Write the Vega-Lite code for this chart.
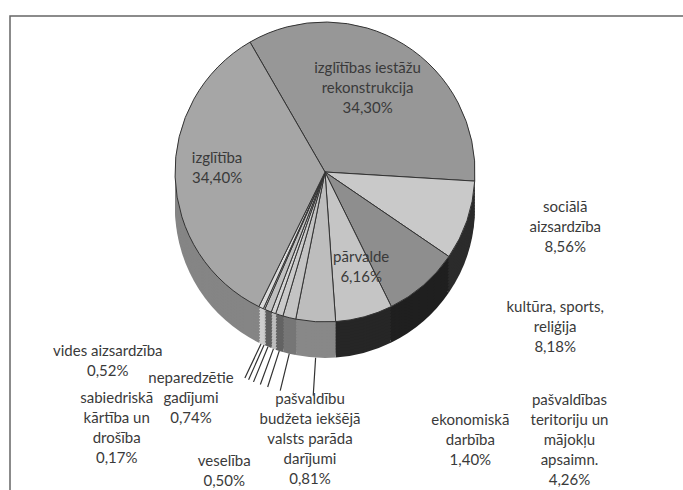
{
  "$schema": "https://vega.github.io/schema/vega-lite/v6.json",
  "width": 677,
  "height": 478,
  "padding": {"left": 10, "top": 16, "right": -4, "bottom": -4},
  "autosize": {"type": "none"},
  "background": "white",
  "config": {
    "view": {"stroke": null},
    "text": {"font": "Lato", "fontSize": 15, "fill": "#3a3a3a", "lineBreak": "\n", "lineHeight": 20, "align": "center", "baseline": "middle"}
  },
  "data": {
    "values": [
      {"n": 1, "k": "izglītības iestāžu rekonstrukcija", "v": 34.30, "label": "izglītības iestāžu\nrekonstrukcija\n34,30%"},
      {"n": 2, "k": "sociālā aizsardzība", "v": 8.56, "label": "sociālā\naizsardzība\n8,56%"},
      {"n": 3, "k": "kultūra, sports, reliģija", "v": 8.18, "label": "kultūra, sports,\nreliģija\n8,18%"},
      {"n": 4, "k": "pārvalde", "v": 6.16, "label": "pārvalde\n6,16%"},
      {"n": 5, "k": "pašvaldības teritoriju un mājokļu apsaimn.", "v": 4.26, "label": "pašvaldības\nteritoriju un\nmājokļu\napsaimn.\n4,26%"},
      {"n": 6, "k": "ekonomiskā darbība", "v": 1.40, "label": "ekonomiskā\ndarbība\n1,40%"},
      {"n": 7, "k": "pašvaldību budžeta iekšējā valsts parāda darījumi", "v": 0.81, "label": "pašvaldību\nbudžeta iekšējā\nvalsts parāda\ndarījumi\n0,81%"},
      {"n": 8, "k": "veselība", "v": 0.50, "label": "veselība\n0,50%"},
      {"n": 9, "k": "neparedzētie gadījumi", "v": 0.74, "label": "neparedzētie\ngadījumi\n0,74%"},
      {"n": 10, "k": "sabiedriskā kārtība un drošība", "v": 0.17, "label": "sabiedriskā\nkārtība un\ndrošība\n0,17%"},
      {"n": 11, "k": "vides aizsardzība", "v": 0.52, "label": "vides aizsardzība\n0,52%"},
      {"n": 12, "k": "izglītība", "v": 34.40, "label": "izglītība\n34,40%"}
    ]
  },
  "layer": [
    {"mark": {"type": "rect", "fill": "transparent", "stroke": "#666666", "strokeWidth": 1.5},
     "data": {"values": [{"frame": 1}]},
     "encoding": {}},
    {
      "encoding": {
        "theta": {"field": "v", "type": "quantitative", "stack": true, "scale": {"range": [-0.5236, 5.7596]}},
        "order": {"field": "n", "type": "quantitative"}
      },
      "layer": [
        {"mark": {"type": "arc", "radius": 150, "xOffset": -23.5, "yOffset": -47},
         "encoding": {"fill": {"field": "n", "type": "ordinal", "legend": null,
           "scale": {"domain": [1,2,3,4,5,6,7,8,9,10,11,12], "range": ["#6a6a6a","#2b2b2b","#1f1f1f","#262626","#888888","#767676","#636363","#bdbdbd","#5e5e5e","#c4c4c4","#cdcdcd","#858585"]}}}},
        {"mark": {"type": "arc", "radius": 150, "xOffset": -23.5, "yOffset": -50}, "encoding": {"fill": {"field": "n", "type": "ordinal", "legend": null}}},
        {"mark": {"type": "arc", "radius": 150, "xOffset": -23.5, "yOffset": -53}, "encoding": {"fill": {"field": "n", "type": "ordinal", "legend": null}}},
        {"mark": {"type": "arc", "radius": 150, "xOffset": -23.5, "yOffset": -56}, "encoding": {"fill": {"field": "n", "type": "ordinal", "legend": null}}},
        {"mark": {"type": "arc", "radius": 150, "xOffset": -23.5, "yOffset": -59}, "encoding": {"fill": {"field": "n", "type": "ordinal", "legend": null}}},
        {"mark": {"type": "arc", "radius": 150, "xOffset": -23.5, "yOffset": -62}, "encoding": {"fill": {"field": "n", "type": "ordinal", "legend": null}}},
        {"mark": {"type": "arc", "radius": 150, "xOffset": -23.5, "yOffset": -65}, "encoding": {"fill": {"field": "n", "type": "ordinal", "legend": null}}},
        {"mark": {"type": "arc", "radius": 150, "xOffset": -23.5, "yOffset": -68}, "encoding": {"fill": {"field": "n", "type": "ordinal", "legend": null}}},
        {"mark": {"type": "arc", "radius": 150, "xOffset": -23.5, "yOffset": -71}, "encoding": {"fill": {"field": "n", "type": "ordinal", "legend": null}}},
        {"mark": {"type": "arc", "radius": 150, "xOffset": -23.5, "yOffset": -74}, "encoding": {"fill": {"field": "n", "type": "ordinal", "legend": null}}},
        {"mark": {"type": "arc", "radius": 150, "xOffset": -23.5, "yOffset": -77}, "encoding": {"fill": {"field": "n", "type": "ordinal", "legend": null}}},
        {"mark": {"type": "arc", "radius": 150, "xOffset": -23.5, "yOffset": -80}, "encoding": {"fill": {"field": "n", "type": "ordinal", "legend": null}}},
        {"mark": {"type": "arc", "radius": 150, "xOffset": -23.5, "yOffset": -83, "stroke": "#333333", "strokeWidth": 1},
         "encoding": {"color": {"field": "n", "type": "ordinal", "legend": null,
           "scale": {"domain": [1,2,3,4,5,6,7,8,9,10,11,12], "range": ["#979797","#c9c9c9","#8e8e8e","#c5c5c5","#bdbdbd","#c3c3c3","#cacaca","#d4d4d4","#c0c0c0","#d0d0d0","#dadada","#a6a6a6"]}}}},
        {"mark": {"type": "arc", "radius": 188, "radius2": 150, "padAngle": 0.5, "fill": "transparent", "stroke": "#333333", "strokeWidth": 1.2, "xOffset": -23.5, "yOffset": -47},
         "encoding": {"strokeOpacity": {"condition": {"test": "datum.n >= 5 && datum.n <= 11", "value": 1}, "value": 0}}},
        {"mark": {"type": "text", "radius": 100, "xOffset": -23.5, "yOffset": -83, "dx": -10, "dy": -19},
         "encoding": {"text": {"condition": {"test": "datum.n == 1", "field": "label", "type": "nominal"}, "value": ""}}},
        {"mark": {"type": "text", "radius": 200, "xOffset": -23.5, "yOffset": -83, "dx": 51, "dy": -30},
         "encoding": {"text": {"condition": {"test": "datum.n == 2", "field": "label", "type": "nominal"}, "value": ""}}},
        {"mark": {"type": "text", "radius": 200, "xOffset": -23.5, "yOffset": -83, "dx": 99, "dy": -16},
         "encoding": {"text": {"condition": {"test": "datum.n == 3", "field": "label", "type": "nominal"}, "value": ""}}},
        {"mark": {"type": "text", "radius": 100, "xOffset": -23.5, "yOffset": -83, "dx": 10, "dy": -12},
         "encoding": {"text": {"condition": {"test": "datum.n == 4", "field": "label", "type": "nominal"}, "value": ""}}},
        {"mark": {"type": "text", "radius": 200, "xOffset": -23.5, "yOffset": -83, "dx": 257, "dy": 28},
         "encoding": {"text": {"condition": {"test": "datum.n == 5", "field": "label", "type": "nominal"}, "value": ""}}},
        {"mark": {"type": "text", "radius": 200, "xOffset": -23.5, "yOffset": -83, "dx": 193, "dy": 54},
         "encoding": {"text": {"condition": {"test": "datum.n == 6", "field": "label", "type": "nominal"}, "value": ""}}},
        {"mark": {"type": "text", "radius": 200, "xOffset": -23.5, "yOffset": -83, "dx": 46, "dy": 37},
         "encoding": {"text": {"condition": {"test": "datum.n == 7", "field": "label", "type": "nominal"}, "value": ""}}},
        {"mark": {"type": "text", "radius": 200, "xOffset": -23.5, "yOffset": -83, "dx": -32, "dy": 101},
         "encoding": {"text": {"condition": {"test": "datum.n == 8", "field": "label", "type": "nominal"}, "value": ""}}},
        {"mark": {"type": "text", "radius": 200, "xOffset": -23.5, "yOffset": -83, "dx": -58, "dy": 21},
         "encoding": {"text": {"condition": {"test": "datum.n == 9", "field": "label", "type": "nominal"}, "value": ""}}},
        {"mark": {"type": "text", "radius": 200, "xOffset": -23.5, "yOffset": -83, "dx": -127, "dy": 43},
         "encoding": {"text": {"condition": {"test": "datum.n == 10", "field": "label", "type": "nominal"}, "value": ""}}},
        {"mark": {"type": "text", "radius": 200, "xOffset": -23.5, "yOffset": -83, "dx": -132, "dy": -2},
         "encoding": {"text": {"condition": {"test": "datum.n == 11", "field": "label", "type": "nominal"}, "value": ""}}},
        {"mark": {"type": "text", "radius": 110, "xOffset": -23.5, "yOffset": -83, "dx": 2, "dy": -18},
         "encoding": {"text": {"condition": {"test": "datum.n == 12", "field": "label", "type": "nominal"}, "value": ""}}}
      ]
    }
  ]
}
